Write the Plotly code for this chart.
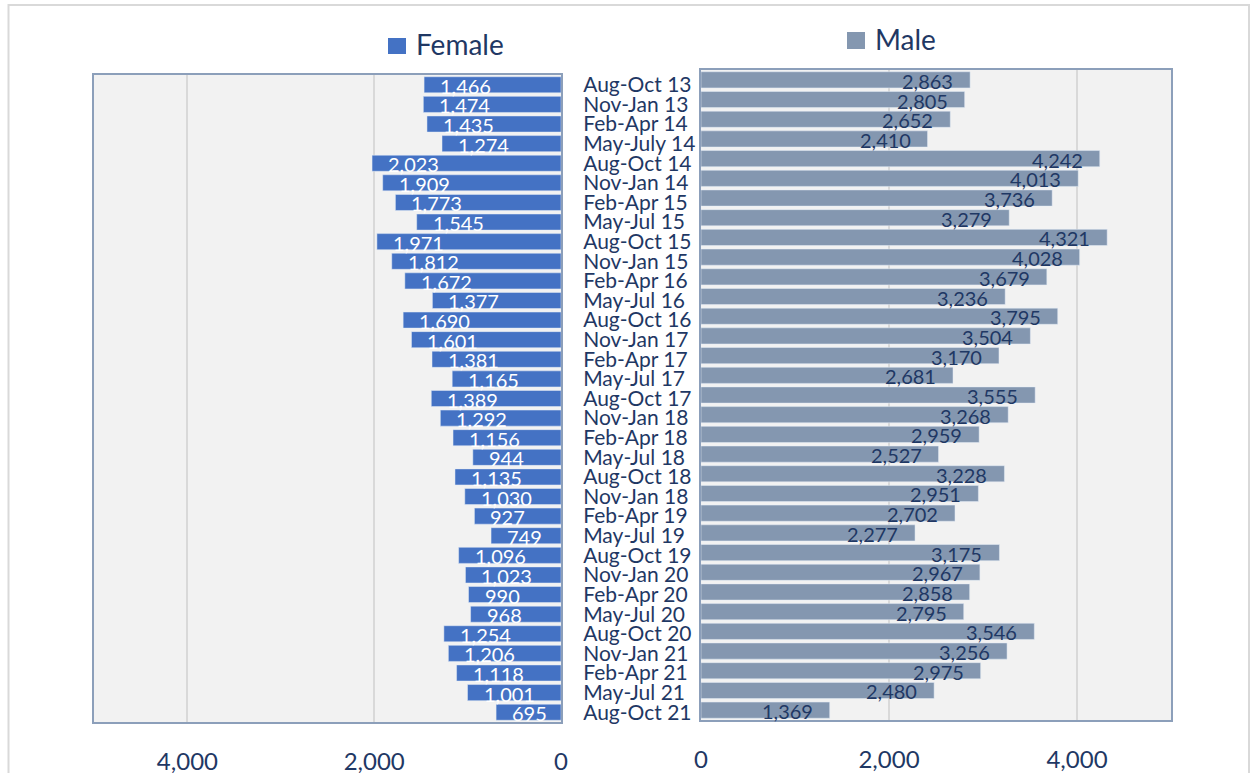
import plotly.graph_objects as go

categories = ["Aug-Oct 13", "Nov-Jan 13", "Feb-Apr 14", "May-July 14", "Aug-Oct 14", "Nov-Jan 14",
              "Feb-Apr 15", "May-Jul 15", "Aug-Oct 15", "Nov-Jan 15", "Feb-Apr 16", "May-Jul 16",
              "Aug-Oct 16", "Nov-Jan 17", "Feb-Apr 17", "May-Jul 17", "Aug-Oct 17", "Nov-Jan 18",
              "Feb-Apr 18", "May-Jul 18", "Aug-Oct 18", "Nov-Jan 18", "Feb-Apr 19", "May-Jul 19",
              "Aug-Oct 19", "Nov-Jan 20", "Feb-Apr 20", "May-Jul 20", "Aug-Oct 20", "Nov-Jan 21",
              "Feb-Apr 21", "May-Jul 21", "Aug-Oct 21"]
female = [1466, 1474, 1435, 1274, 2023, 1909, 1773, 1545, 1971, 1812, 1672, 1377, 1690, 1601, 1381,
          1165, 1389, 1292, 1156, 944, 1135, 1030, 927, 749, 1096, 1023, 990, 968, 1254, 1206, 1118,
          1001, 695]
male = [2863, 2805, 2652, 2410, 4242, 4013, 3736, 3279, 4321, 4028, 3679, 3236, 3795, 3504, 3170,
        2681, 3555, 3268, 2959, 2527, 3228, 2951, 2702, 2277, 3175, 2967, 2858, 2795, 3546, 3256,
        2975, 2480, 1369]
tick_vals = [0, 2000, 4000]
tick_text = ["0", "2,000", "4,000"]

W, H = 1250, 773
FONT = "Lato, Open Sans, sans-serif"
NAVY = "#1F3864"
FEM_C = "#4472C4"
MALE_C = "#8497B0"
BORDER = "#8C9FBA"

pos = list(range(len(categories)))

def px(x):
    return x / W

def py(y):
    return 1 - y / H

fig = go.Figure()
fig.add_trace(go.Bar(x=female, y=pos, orientation="h", marker_color=FEM_C, name="Female",
                     xaxis="x", yaxis="y", showlegend=False, hoverinfo="x"))
fig.add_trace(go.Bar(x=male, y=pos, orientation="h", marker_color=MALE_C, name="Male",
                     xaxis="x2", yaxis="y2", showlegend=False, hoverinfo="x"))

annotations = []
for i, v in enumerate(female):
    annotations.append(dict(x=v, y=i, xref="x", yref="y", text=f"{v:,}", showarrow=False,
                            xanchor="left", yanchor="middle", xshift=14, yshift=-1,
                            font=dict(family=FONT, size=20, color="white")))
for i, v in enumerate(male):
    annotations.append(dict(x=v, y=i, xref="x2", yref="y2", text=f"{v:,}", showarrow=False,
                            xanchor="right", yanchor="middle", xshift=-15, yshift=-1,
                            font=dict(family=FONT, size=20, color=NAVY)))
# legend-like titles
annotations.append(dict(x=px(414), y=py(44), xref="paper", yref="paper", text="Female",
                        showarrow=False, xanchor="left", yanchor="middle",
                        font=dict(family=FONT, size=28, color=NAVY)))
annotations.append(dict(x=px(873), y=py(39), xref="paper", yref="paper", text="Male",
                        showarrow=False, xanchor="left", yanchor="middle",
                        font=dict(family=FONT, size=28, color=NAVY)))

shapes = [
    dict(type="rect", xref="paper", yref="paper", x0=px(388), x1=px(406), y0=py(54), y1=py(38),
         fillcolor=FEM_C, line=dict(width=0)),
    dict(type="rect", xref="paper", yref="paper", x0=px(847), x1=px(865), y0=py(49), y1=py(32),
         fillcolor=MALE_C, line=dict(width=0)),
    dict(type="rect", xref="paper", yref="paper", x0=px(8.5), x1=px(1249), y0=-0.1, y1=py(5),
         fillcolor="rgba(0,0,0,0)", line=dict(color="#D9D9D9", width=2), layer="below"),
]

axis_common = dict(showline=True, mirror=True, linecolor=BORDER, linewidth=2, zeroline=False)

fig.update_layout(
    width=W, height=H,
    margin=dict(l=0, r=0, t=0, b=0, autoexpand=False),
    paper_bgcolor="white", plot_bgcolor="#F2F2F2",
    bargap=0.18,
    showlegend=False,
    font=dict(family=FONT, color=NAVY),
    xaxis=dict(domain=[px(94), px(561)], range=[5000, 0], anchor="y", automargin=False,
               tickvals=tick_vals, ticktext=tick_text, showgrid=True, gridcolor="#D9D9D9",
               gridwidth=1.5, ticks="outside", ticklen=17, tickcolor="rgba(0,0,0,0)",
               tickfont=dict(family=FONT, size=24, color=NAVY), **axis_common),
    yaxis=dict(domain=[py(722), py(75)], range=[32.5, -0.5], anchor="x", side="right",
               automargin=False,
               tickvals=pos, ticktext=categories, showgrid=False, ticks="outside", ticklen=16,
               tickcolor="rgba(0,0,0,0)", tickfont=dict(family=FONT, size=21, color=NAVY),
               **axis_common),
    xaxis2=dict(domain=[px(701), px(1171)], range=[0, 5000], anchor="y2", automargin=False,
                tickvals=tick_vals, ticktext=tick_text, showgrid=True, gridcolor="#D9D9D9",
                gridwidth=1.5, ticks="outside", ticklen=17, tickcolor="rgba(0,0,0,0)",
                tickfont=dict(family=FONT, size=24, color=NAVY), **axis_common),
    yaxis2=dict(domain=[py(720), py(70)], range=[32.5, -0.5], anchor="x2", automargin=False,
                showticklabels=False, showgrid=False, **axis_common),
    annotations=annotations,
    shapes=shapes,
)

post = ("document.body.style.margin='0';document.body.style.padding='0';"
        "document.documentElement.style.overflow='hidden';")
fig.write_html("out.html", post_script=post, config={"displayModeBar": False})
